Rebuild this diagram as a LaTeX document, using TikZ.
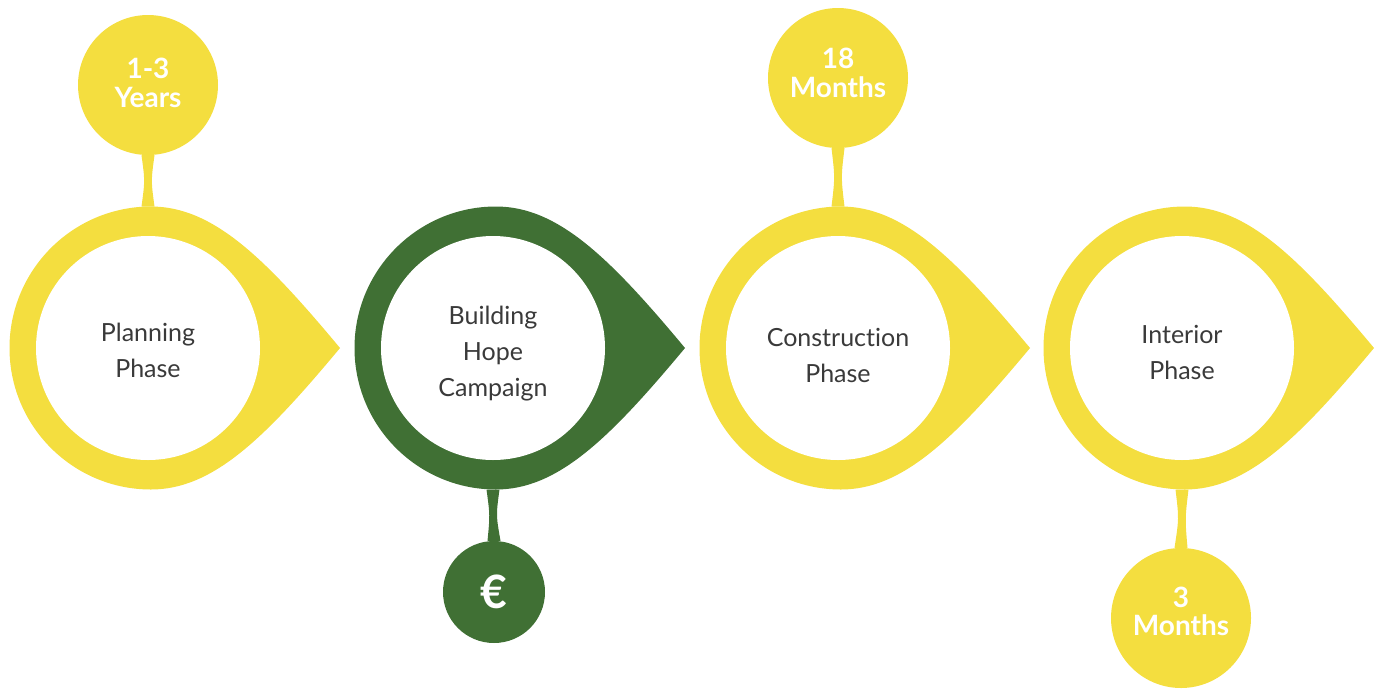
\documentclass[tikz,border=0pt]{standalone}
\usepackage{fontspec}
\setmainfont{Lato}[Ligatures=NoCommon]
\usetikzlibrary{calc}

\definecolor{yel}{HTML}{F4DE3F}
\definecolor{grn}{HTML}{407034}
\definecolor{ink}{HTML}{3A3A3A}

% drop shape: name, centre x, colour
\newcommand{\teardrop}[3]{
	\fill[#3] (#2+3,206.5) .. controls (#2-75.1,206.5) and (#2-138.5,269.9) .. (#2-138.5,348)
		.. controls (#2-138.5,426.1) and (#2-75.1,489.5) .. (#2+3,489.5)
		.. controls (#2+65,489.5) and (#2+117,438) .. (#2+192,348)
		.. controls (#2+117,258) and (#2+65,206.5) .. (#2+3,206.5) -- cycle;
	\coordinate (#1-top) at (#2,206.5);
	\coordinate (#1-bot) at (#2,489.5);
}
% stem with a waist: from, to, colour
\newcommand{\waist}[3]{
	\fill[#3] let \p1=(#1), \p2=(#2) in
		(\x1-6.5,\y1) .. controls (\x1-3,0.5*\y1+0.5*\y2) .. (\x2-6.5,\y2)
		-- (\x2+6.5,\y2) .. controls (\x1+3,0.5*\y1+0.5*\y2) .. (\x1+6.5,\y1) -- cycle;
}
% text lines, moved up or down
\newcommand{\lift}[2]{\raisebox{#1pt}[0pt][0pt]{\begin{tabular}{@{}c@{}}#2\end{tabular}}}

\begin{document}
\begin{tikzpicture}[x=1pt,y=-1pt,
		phase/.style={circle,fill=white,minimum size=224,inner sep=0pt,
			text=ink,font=\fontsize{25}{36}\selectfont},
		dur/.style={circle,minimum size=140,inner sep=0pt,
			text=white,font=\bfseries\fontsize{28}{27}\selectfont}]
	
	\useasboundingbox (0,0) rectangle (1384,689);
	
	\teardrop{plan}{148}{yel}
	\teardrop{bh}{493}{grn}
	\teardrop{con}{838}{yel}
	\teardrop{int}{1182}{yel}
	
	\node[phase] (plan) at (148,348) {\lift{-11}{Planning\\Phase}};
	\node[phase] (bh) at (493,348) {\lift{-12}{Building\\Hope\\Campaign}};
	\node[phase] (con) at (838,348) {\lift{-16}{Construction\\Phase}};
	\node[phase] (int) at (1182,348) {\lift{-13}{Interior\\Phase}};
	
	\node[dur,fill=yel] (planyr) at (148,85) {\lift{-8}{1-3\\Years}};
	\node[dur,fill=yel] (conmo) at (838,78) {\lift{-5}{18\\Months}};
	\node[dur,fill=yel] (intmo) at (1181,618) {\lift{-3.5}{3\\Months}};
	\node[dur,fill=grn,minimum size=102,font=\bfseries\fontsize{46}{46}\selectfont] (euro) at (494,592) {€};
	
	\waist{planyr.south}{plan-top}{yel}
	\waist{conmo.south}{con-top}{yel}
	\waist{bh-bot}{euro.north}{grn}
	\waist{int-bot}{intmo.north}{yel}
	
\end{tikzpicture}
\end{document}
